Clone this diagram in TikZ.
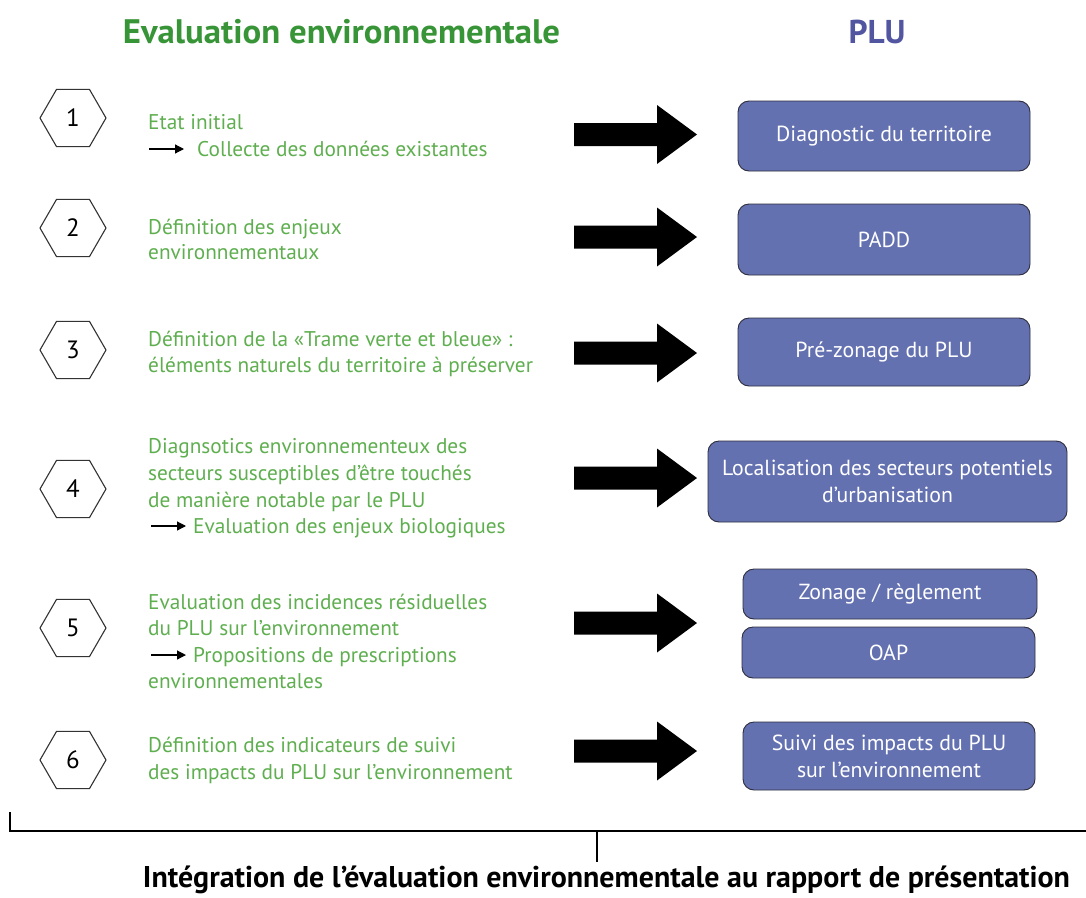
\documentclass[tikz,border=0pt]{standalone}
\usepackage{fontspec}
\setmainfont{PT Sans}
\usetikzlibrary{arrows.meta,shapes.geometric}
\definecolor{gtxt}{RGB}{95,175,80}
\definecolor{gtitle}{RGB}{55,148,55}
\definecolor{btitle}{RGB}{82,86,160}
\definecolor{bfill}{RGB}{100,113,176}
\definecolor{bdraw}{RGB}{45,45,60}
\begin{document}
\begin{tikzpicture}[x=1pt,y=-1pt,
 gline/.style={anchor=base west, text=gtxt, font=\fontsize{21.3}{25}\selectfont, inner sep=0},
 hexnode/.style={regular polygon, regular polygon sides=6, minimum size=66pt, inner sep=0, draw=black!80, line width=1.1pt, font=\fontsize{25}{28}\selectfont},
 plubox/.style={rounded corners=11pt, fill=bfill, draw=bdraw, line width=0.9pt, text=white, font=\fontsize{21.8}{27}\selectfont, align=center, inner sep=0},
 smallarr/.style={line width=1.2pt, -{Triangle[length=9pt,width=9pt]}},
 bigarr/.pic={\fill (0,-11.5) -- (83,-11.5) -- (83,-29.5) -- (123,0) -- (83,29.5) -- (83,11.5) -- (0,11.5) -- cycle;},
 bracket/.style={line width=2.6pt}
]
\fill[white] (0,0) rectangle (1086,897);
\useasboundingbox (0,0) rectangle (1086,897);

% titles
\node[text=gtitle, inner sep=0] (tEv) at (341.5,32) {\resizebox{437pt}{\height}{\fontsize{34}{34}\selectfont\bfseries Evaluation environnementale}};
\node[text=btitle, inner sep=0] (tPLU) at (877,32) {\resizebox{57pt}{\height}{\fontsize{33}{33}\selectfont\bfseries PLU}};

% hexagons
\node[hexnode] (h1) at (73,118) {1};
\node[hexnode] (h2) at (73,228) {2};
\node[hexnode] (h3) at (73,350) {3};
\node[hexnode] (h4) at (73,489) {4};
\node[hexnode] (h5) at (73,628) {5};
\node[hexnode] (h6) at (73,760) {6};

% row 1
\node[gline] (t1a) at (148,129) {Etat initial};
\coordinate (a1s) at (149,149); \coordinate (a1e) at (184,149);
\draw[smallarr] (a1s) -- (a1e);
\node[gline] (t1b) at (197,156) {Collecte des données existantes};
% row 2
\node[gline] (t2a) at (148,234) {Définition des enjeux};
\node[gline] (t2b) at (148,259) {environnementaux};
% row 3
\node[gline] (t3a) at (148,346) {Définition de la «Trame verte et bleue» :};
\node[gline] (t3b) at (148,372) {éléments naturels du territoire à préserver};
% row 4
\node[gline] (t4a) at (148,453) {Diagnsotics environnementeux des};
\node[gline] (t4b) at (148,480) {secteurs susceptibles d’être touchés};
\node[gline] (t4c) at (148,507) {de manière notable par le PLU};
\coordinate (a4s) at (151,526); \coordinate (a4e) at (186,526);
\draw[smallarr] (a4s) -- (a4e);
\node[gline] (t4d) at (193,533) {Evaluation des enjeux biologiques};
% row 5
\node[gline] (t5a) at (148,609) {Evaluation des incidences résiduelles};
\node[gline] (t5b) at (148,635) {du PLU sur l’environnement};
\coordinate (a5s) at (151,655); \coordinate (a5e) at (186,655);
\draw[smallarr] (a5s) -- (a5e);
\node[gline] (t5c) at (193,662) {Propositions de prescriptions};
\node[gline] (t5d) at (148,688) {environnementales};
% row 6
\node[gline] (t6a) at (148,752) {Définition des indicateurs de suivi};
\node[gline] (t6b) at (148,779) {des impacts du PLU sur l’environnement};

% big arrows
\pic (A1) at (574,134.5) {bigarr};
\pic (A2) at (574,237) {bigarr};
\pic (A3) at (574,353) {bigarr};
\pic (A4) at (574,478) {bigarr};
\pic (A5) at (574,623) {bigarr};
\pic (A6) at (574,751) {bigarr};

% PLU boxes
\node[plubox, minimum width=292pt, minimum height=70pt] (b1) at (884,136) {Diagnostic du territoire};
\node[plubox, minimum width=292pt, minimum height=71pt] (b2) at (884,239.5) {PADD};
\node[plubox, minimum width=292pt, minimum height=68pt] (b3) at (884,352) {Pré-zonage du PLU};
\node[plubox, minimum width=359pt, minimum height=81pt] (b4) at (887.5,481.5) {Localisation des secteurs potentiels\\d’urbanisation};
\node[plubox, minimum width=294pt, minimum height=50pt] (b5a) at (890,594) {Zonage / règlement};
\node[plubox, minimum width=293pt, minimum height=51pt] (b5b) at (888.5,652.5) {OAP};
\node[plubox, minimum width=292pt, minimum height=68pt] (b6) at (889,756) {Suivi des impacts du PLU\\sur l’environnement};

% bracket
\coordinate (brtop) at (10,812);
\coordinate (brright) at (1086,831);
\coordinate (brmid) at (597,831);
\coordinate (brtick) at (597,862);
\draw[bracket] (brtop) |- (brright);
\draw[bracket] (brmid) -- (brtick);
\node[inner sep=0] (tInt) at (606.5,880) {\resizebox{927pt}{\height}{\fontsize{30}{30}\selectfont\bfseries Intégration de l’évaluation environnementale au rapport de présentation}};
\end{tikzpicture}
\end{document}
